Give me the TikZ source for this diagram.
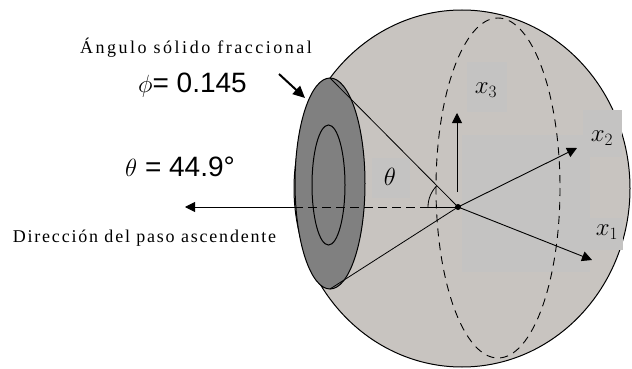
\documentclass[tikz,border=0pt]{standalone}
\usepackage{fontspec}
\setmainfont{Liberation Serif}
\newfontfamily\eqfont{Liberation Sans}
\usetikzlibrary{arrows.meta}
\definecolor{spheregray}{RGB}{200,196,192}
\definecolor{patchgray}{RGB}{196,195,194}
\definecolor{capgray}{RGB}{128,128,128}
\begin{document}
\begin{tikzpicture}[x=1pt,y=-1pt,
  outline/.style={draw=black, line width=1pt},
  thinline/.style={draw=black, line width=0.8pt},
  axisarrow/.style={line width=0.9pt, -{Triangle[length=10pt,width=10pt]}},
  hidden/.style={draw=black, line width=0.9pt, dash pattern=on 8pt off 6pt},
  caption/.style={inner sep=0pt, font=\fontsize{18}{20}\selectfont\addfontfeature{LetterSpace=#1}},
  value/.style={inner sep=0pt, anchor=west, font=\eqfont\fontsize{28}{30}\selectfont},
  axislabel/.style={inner sep=0pt, font=\fontsize{27}{29}\selectfont},
]
\useasboundingbox (0,0) rectangle (632,369);

% reference points
\coordinate (O) at (458,207);
\coordinate (capTop) at (330,78);
\coordinate (capBot) at (330,289);
\coordinate (rim) at (294,207);
\coordinate (solidStart) at (428,207);
\coordinate (ascTip) at (185,207);
\coordinate (x3Base) at (457,192);
\coordinate (x3Tip) at (457,113);
\coordinate (x2Tip) at (577,148);
\coordinate (x1Tip) at (592,260);
\coordinate (ptrFrom) at (279,74);
\coordinate (ptrTo) at (305,98);

% sphere
\path[fill=spheregray, outline] (462,188.5) ellipse [x radius=168, y radius=178.5];

% lighter patches behind the axis labels
\fill[patchgray] (462,135) rectangle (590,272);
\fill[patchgray] (467,62) rectangle (507,112);
\fill[patchgray] (583,110) rectangle (622,157);
\fill[patchgray] (587,218) rectangle (623,250);
\fill[patchgray] (372,158) rectangle (410,198);

% spherical cap cut by the cone
\draw[fill=capgray, outline] (330,183.5) ellipse [x radius=35, y radius=105.5];
\draw[outline] (328.5,185) ellipse [x radius=16.5, y radius=60];

% hidden meridian
\draw[hidden] (498,188) ellipse [x radius=62, y radius=170];

% cone generators
\draw[thinline] (O) -- (capTop);
\draw[thinline] (O) -- (capBot);

% ascent direction
\draw[hidden, dash pattern=on 9pt off 5pt] (rim) -- (solidStart);
\draw[thinline] (solidStart) -- (O);
\draw[axisarrow] (rim) -- (ascTip);

% cone half-angle
\draw[thinline] (O) ++(180:30) arc[start angle=180, end angle=225, radius=30];

% coordinate axes
\draw[axisarrow] (x3Base) -- (x3Tip);
\draw[axisarrow] (O) -- (x2Tip);
\draw[axisarrow] (O) -- (x1Tip);
\fill (O) circle (3);

% pointer to the cap
\draw[line width=2pt, -{Triangle[length=12pt,width=11pt]}] (ptrFrom) -- (ptrTo);

% labels
\node[axislabel] (lx3) at (486,90) {$x_3$};
\node[axislabel] (lx2) at (602,138) {$x_2$};
\node[axislabel] (lx1) at (607,232) {$x_1$};
\node[axislabel] (lth) at (390,177) {$\theta$};

\node[caption=14] (capsolid) at (196,48) {Ángulo sólido fraccional};
\node[caption=10] (capdir) at (144.5,238) {Dirección del paso ascendente};
\node[value] (phival) at (138,85) {$\phi$= 0.145};
\node[value] (thval) at (125,167) {$\theta$ = 44.9°};
\end{tikzpicture}
\end{document}
